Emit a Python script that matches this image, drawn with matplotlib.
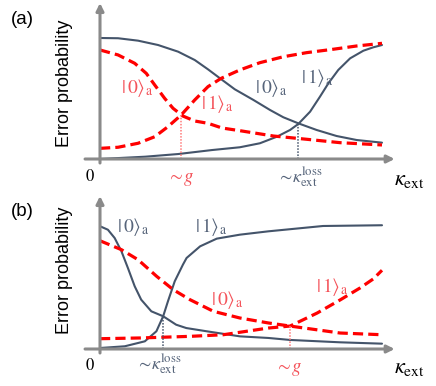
import matplotlib
matplotlib.use("Agg")
import matplotlib.pyplot as plt

plt.rcParams['mathtext.fontset'] = 'stix'
plt.rcParams['font.family'] = ['Liberation Sans', 'DejaVu Sans']

# ---------------- data ----------------
# panel (a)
a_dark0_x = [0, 0.064, 0.135, 0.206, 0.277, 0.336, 0.383, 0.430, 0.478, 0.544,
             0.603, 0.650, 0.703, 0.768, 0.839, 0.910, 1.0]
a_dark0_y = [1.0, 0.998, 0.978, 0.942, 0.887, 0.818, 0.741, 0.659, 0.576, 0.488,
             0.405, 0.345, 0.295, 0.240, 0.190, 0.157, 0.135]
a_dark1_x = [0, 0.160, 0.277, 0.397, 0.496, 0.567, 0.627, 0.674, 0.703, 0.745,
             0.780, 0.810, 0.845, 0.887, 0.934, 0.969, 1.0]
a_dark1_y = [0, 0.019, 0.041, 0.074, 0.097, 0.130, 0.184, 0.240, 0.289, 0.391,
             0.515, 0.626, 0.736, 0.832, 0.895, 0.923, 0.942]
a_red0_x = [0, 0.064, 0.123, 0.164, 0.194, 0.229, 0.259, 0.294, 0.336, 0.383,
            0.433, 0.496, 0.615, 0.733, 0.851, 1.0]
a_red0_y = [0.901, 0.860, 0.791, 0.708, 0.612, 0.502, 0.419, 0.355, 0.314, 0.295,
            0.256, 0.234, 0.190, 0.163, 0.135, 0.116]
a_red1_x = [0, 0.064, 0.135, 0.194, 0.241, 0.288, 0.336, 0.383, 0.430, 0.496,
            0.567, 0.650, 0.733, 0.827, 0.910, 1.0]
a_red1_y = [0.088, 0.097, 0.130, 0.184, 0.267, 0.364, 0.488, 0.598, 0.667, 0.736,
            0.796, 0.845, 0.879, 0.907, 0.934, 0.956]
a_g = (0.288, 0.364)       # ~g crossing
a_kloss = (0.703, 0.292)   # ~kappa_ext^loss crossing

# panel (b)
b_dark0_x = [0, 0.028, 0.052, 0.076, 0.099, 0.123, 0.146, 0.182, 0.224, 0.270,
             0.306, 0.378, 0.496, 0.597, 0.674, 0.851, 1.0]
b_dark0_y = [0.990, 0.962, 0.895, 0.788, 0.653, 0.506, 0.398, 0.304, 0.264, 0.196,
             0.169, 0.143, 0.102, 0.089, 0.073, 0.054, 0.043]
b_dark1_x = [0, 0.088, 0.159, 0.200, 0.224, 0.241, 0.265, 0.294, 0.307, 0.355,
             0.414, 0.496, 0.597, 0.791, 1.0]
b_dark1_y = [0.008, 0.022, 0.062, 0.143, 0.264, 0.385, 0.546, 0.680, 0.734, 0.828,
             0.890, 0.922, 0.949, 0.992, 0.998]
b_red0_x = [0, 0.076, 0.135, 0.201, 0.260, 0.319, 0.402, 0.496, 0.597, 0.674,
            0.851, 1.0]
b_red0_y = [0.873, 0.801, 0.720, 0.586, 0.478, 0.398, 0.304, 0.250, 0.210, 0.185,
            0.129, 0.115]
b_red1_x = [0, 0.142, 0.319, 0.437, 0.597, 0.674, 0.770, 0.851, 0.922, 0.969, 1.0]
b_red1_y = [0.083, 0.089, 0.102, 0.115, 0.169, 0.185, 0.290, 0.395, 0.492, 0.565,
            0.635]
b_kloss = (0.224, 0.264)
b_g = (0.674, 0.185)

DARK = '#44546a'
DARK_TXT = '#56647a'
RED = '#ff0000'
RED_TXT = '#f4535a'
RED_DOT = '#ff7a7a'
GRAY = '#8a8a8a'

W, H = 436, 386
fig = plt.figure(figsize=(W / 100, H / 100), dpi=100)


def px_axes(x0, x1, y0, y1):
    return fig.add_axes([x0 / W, 1 - y1 / H, (x1 - x0) / W, (y1 - y0) / H])


def ftext(px, py, s, color, size, **kw):
    fig.text(px / W, 1 - py / H, s, color=color, fontsize=size,
             ha='center', va='center', **kw)


def panel(ax, ytop, ybot, dark0, dark1, red0, red1, gpt, kpt):
    ax.set_xlim(0, 295 / 282)
    ax.set_ylim(0, ytop)
    ax.axis('off')
    # axes with arrows
    ax.annotate('', xy=(1.045, 0), xytext=(-0.053, 0),
                arrowprops=dict(arrowstyle='-|>', color=GRAY, lw=2.2,
                                mutation_scale=11, shrinkA=0, shrinkB=0),
                annotation_clip=False)
    ax.annotate('', xy=(0, ytop), xytext=(0, ybot),
                arrowprops=dict(arrowstyle='-|>', color=GRAY, lw=2.2,
                                mutation_scale=11, shrinkA=0, shrinkB=0),
                annotation_clip=False)
    ax.plot(*dark0, color=DARK, lw=1.5, clip_on=False, solid_capstyle='round',
            solid_joinstyle='round')
    ax.plot(*dark1, color=DARK, lw=1.5, clip_on=False, solid_capstyle='round',
            solid_joinstyle='round')
    ax.plot(*red0, color=RED, lw=2.3, dashes=(3.2, 1.6), clip_on=False)
    ax.plot(*red1, color=RED, lw=2.3, dashes=(3.2, 1.6), clip_on=False)
    ax.plot([gpt[0], gpt[0]], [0, gpt[1]], color=RED_DOT, lw=1.1, ls=(0, (1, 1)))
    ax.plot([kpt[0], kpt[0]], [0, kpt[1]], color=DARK, lw=1.1, ls=(0, (1, 1)))


# panel (a): x 100..395 px, y 3..159 px
axa = px_axes(100, 395, 3, 159)
panel(axa, 156 / 121, -4 / 121,
      (a_dark0_x, a_dark0_y), (a_dark1_x, a_dark1_y),
      (a_red0_x, a_red0_y), (a_red1_x, a_red1_y), a_g, a_kloss)

# panel (b): x 100..395 px, y 196..349 px
axb = px_axes(100, 395, 196, 349)
panel(axb, 153 / 124, -4 / 124,
      (b_dark0_x, b_dark0_y), (b_dark1_x, b_dark1_y),
      (b_red0_x, b_red0_y), (b_red1_x, b_red1_y), b_g, b_kloss)

ket0 = r'$|\,0\rangle_{\mathrm{a}}$'
ket1 = r'$|\,1\rangle_{\mathrm{a}}$'
kap = r'$\kappa_{\mathrm{ext}}$'
kloss = r'$\sim\!\kappa_{\mathrm{ext}}^{\mathrm{loss}}$'
gtxt = r'$\sim\! g$'

# panel (a) texts
ftext(22, 19, '(a)', 'black', 13.5)
ftext(64, 83, 'Error probability', 'black', 13, rotation=90)
ftext(90, 176, r'$0$', 'black', 12)
ftext(409, 180, kap, 'black', 16)
ftext(180, 179, gtxt, RED_TXT, 13.5)
ftext(300, 178, kloss, DARK_TXT, 13)
ftext(137, 88, ket0, RED_TXT, 14)
ftext(217, 104, ket1, RED_TXT, 14)
ftext(271, 88, ket0, DARK_TXT, 14)
ftext(317, 78, ket1, DARK_TXT, 14)

# panel (b) texts
ftext(22, 212, '(b)', 'black', 13.5)
ftext(64, 270, 'Error probability', 'black', 13, rotation=90)
ftext(90, 365, r'$0$', 'black', 12)
ftext(409, 368, kap, 'black', 16)
ftext(288, 369, gtxt, RED_TXT, 13.5)
ftext(159, 365, kloss, DARK_TXT, 13)
ftext(133, 227, ket0, DARK_TXT, 14)
ftext(211, 227, ket1, DARK_TXT, 14)
ftext(227, 300, ket0, RED_TXT, 14)
ftext(332, 287, ket1, RED_TXT, 14)

fig.savefig('out.png', dpi=100)
